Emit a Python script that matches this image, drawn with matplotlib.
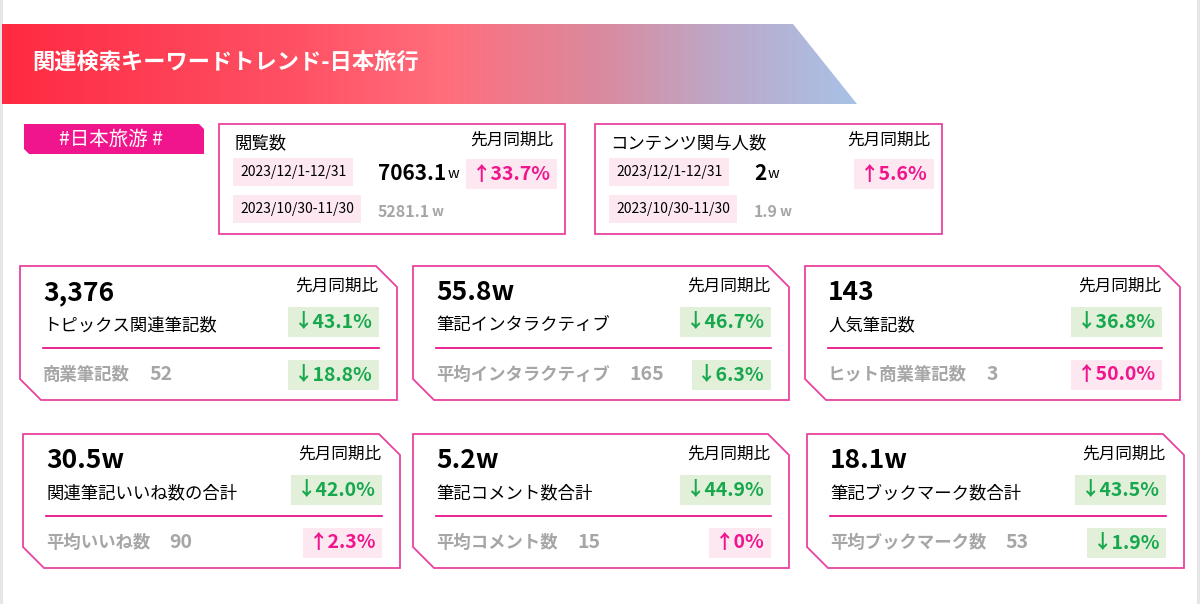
import matplotlib.pyplot as plt
import numpy as np
from matplotlib.patches import Polygon, Rectangle
from matplotlib.colors import LinearSegmentedColormap

plt.rcParams['font.family'] = ['Noto Sans CJK JP', 'DejaVu Sans']

title = '関連検索キーワードトレンド-日本旅行'
tag = '#日本旅游 #'

# top summary cards
top_titles = ['閲覧数', 'コンテンツ関与人数']
periods = ['2023/12/1-12/31', '2023/10/30-11/30']
top_now = ['7063.1', '2']
top_prev = ['5281.1', '1.9']
top_change = [33.7, 5.6]

# metric cards
card_values = ['3,376', '55.8w', '143', '30.5w', '5.2w', '18.1w']
card_labels = ['トピックス関連筆記数', '筆記インタラクティブ', '人気筆記数',
               '関連筆記いいね数の合計', '筆記コメント数合計', '筆記ブックマーク数合計']
card_change = [-43.1, -46.7, -36.8, -42.0, -44.9, -43.5]
sub_labels = ['商業筆記数', '平均インタラクティブ', 'ヒット商業筆記数',
              '平均いいね数', '平均コメント数', '平均ブックマーク数']
sub_values = [52, 165, 3, 90, 15, 53]
sub_change = [-18.8, -6.3, 50.0, 2.3, 0, -1.9]

pink = '#F0158C'
pink_bg = '#FDE8F2'
green = '#17A84E'
green_bg = '#E2EFD9'
border = '#E8439E'
gray = '#A6A6A6'


def fmt(v):
    arrow = '↑' if v >= 0 else '↓'
    txt = '0' if v == 0 else f'{abs(v):.1f}'
    return arrow + txt + '%'


def change_box(ax, x, y, v, size=14):
    up = v >= 0
    ax.text(x, y, fmt(v), ha='right', va='center', fontsize=size, fontweight='bold',
            color=pink if up else green,
            bbox=dict(boxstyle='square,pad=0.3', fc=pink_bg if up else green_bg, ec='none'))


fig = plt.figure(figsize=(12, 6.04), dpi=100)
ax = fig.add_axes([0, 0, 1, 1])

# side lines
ax.add_patch(Rectangle((0, 0), 3, 604, fc='#E6E6E6', ec='none'))
ax.add_patch(Rectangle((1197, 0), 3, 604, fc='#E6E6E6', ec='none'))

# header band with gradient
stops = [(0.0, '#FE2A42'), (0.35, '#FF5265'), (0.52, '#FF6E7C'),
         (0.70, '#DA8A9E'), (0.84, '#BDA8C8'), (1.0, '#A8C2E6')]
cmap = LinearSegmentedColormap.from_list('hdr', stops)
hdr = Polygon([(2, 24), (793, 24), (857, 104), (2, 104)], closed=True, fc='none', ec='none')
ax.add_patch(hdr)
im = ax.imshow(np.linspace(0, 1, 256).reshape(1, -1), cmap=cmap,
               extent=[2, 857, 104, 24], aspect='auto', zorder=1)
im.set_clip_path(hdr)
ax.text(32, 62, title, color='white', fontsize=16, fontweight='bold', va='center', zorder=2)

# tag
ax.add_patch(Polygon([(24, 124), (199, 124), (204, 129), (204, 154), (29, 154), (24, 149)],
                     closed=True, fc=pink, ec='none'))
ax.text(111, 139, tag, color='white', fontsize=14, ha='center', va='center')

# top cards
top_x = [(219, 565), (595, 942)]
for i, (x0, x1) in enumerate(top_x):
    y0, y1 = 124, 234
    ax.add_patch(Rectangle((x0, y0), x1 - x0, y1 - y0, fc='white', ec=border, lw=1.3))
    ax.text(x0 + 15, y0 + 19, top_titles[i], fontsize=12.5, va='center')
    ax.text(x1 - 12, y0 + 16, '先月同期比', fontsize=12, ha='right', va='center')
    for j, p in enumerate(periods):
        ax.text(x0 + 21, y0 + 48 + j * 37, p, fontsize=10, va='center',
                bbox=dict(boxstyle='square,pad=0.5', fc=pink_bg, ec='none'))
    t = ax.text(x0 + 159, y0 + 49, top_now[i], fontsize=15, fontweight='bold', va='center')
    ax.annotate('w', xy=(1, 0), xycoords=t, xytext=(1, 2), textcoords='offset points',
                fontsize=10.5, va='bottom')
    t = ax.text(x0 + 159, y0 + 88, top_prev[i], fontsize=11.5, fontweight='bold', color=gray, va='center')
    ax.annotate('w', xy=(1, 0), xycoords=t, xytext=(1, 1), textcoords='offset points',
                fontsize=10, color=gray, fontweight='bold', va='bottom')
    change_box(ax, x1 - 14, y0 + 50, top_change[i], size=14)

# metric cards
card_x = [(20, 397), (413, 789), (805, 1180), (23, 400), (413, 789), (807, 1184)]
card_y = [(266, 400)] * 3 + [(434, 568)] * 3
cut = 21
for i in range(6):
    x0, x1 = card_x[i]
    y0, y1 = card_y[i]
    shape = [(x0, y0), (x1 - cut, y0), (x1, y0 + cut), (x1, y1), (x0 + cut, y1), (x0, y1 - cut)]
    ax.add_patch(Polygon(shape, closed=True, fc='white', ec=border, lw=1.3))
    ax.text(x0 + 23, y0 + 27, card_values[i], fontsize=19, fontweight='bold', va='center')
    ax.text(x0 + 23, y0 + 59, card_labels[i], fontsize=12.5, va='center')
    ax.text(x1 - 19, y0 + 20, '先月同期比', fontsize=12, ha='right', va='center')
    change_box(ax, x1 - 24, y0 + 56, card_change[i])
    ax.plot([x0 + 23, x1 - 18], [y0 + 82, y0 + 82], color='#E6007E', lw=1.2)
    t = ax.text(x0 + 23, y0 + 109, sub_labels[i], fontsize=12.5,
                fontweight='bold', color=gray, va='center')
    ax.annotate(str(sub_values[i]), xy=(1, 0.5), xycoords=t, xytext=(14, 0),
                textcoords='offset points', fontsize=14, fontweight='bold',
                color=gray, va='center')
    change_box(ax, x1 - 24, y0 + 109, sub_change[i])

ax.set_xlim(0, 1200)
ax.set_ylim(604, 0)
ax.axis('off')

fig.savefig('out.png', dpi=100)
